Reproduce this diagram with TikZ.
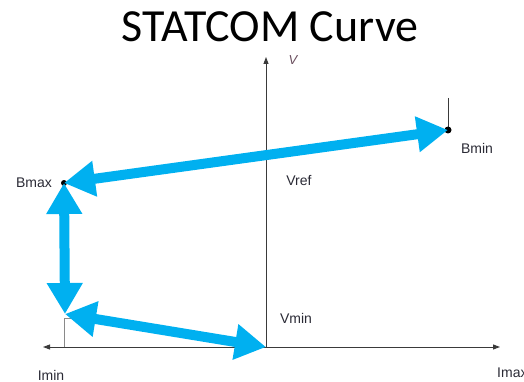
\documentclass[tikz,border=0pt]{standalone}
\usepackage{fontspec}
\setmainfont{Liberation Sans}
\newfontfamily\titlefont{Carlito}
\usetikzlibrary{arrows.meta}
\definecolor{curveblue}{HTML}{00B0F0}
\definecolor{axisgray}{HTML}{3A3A3A}
\definecolor{tickgray}{HTML}{8A8A8A}
\definecolor{vlabel}{HTML}{6A4E5E}
\definecolor{labeltext}{HTML}{2A2A35}
\begin{document}
\begin{tikzpicture}[x=1pt,y=-1pt,
  axis/.style={draw=axisgray,line width=0.9pt,-{Triangle[length=7pt,width=5pt]}},
  curve/.style={draw=curveblue,line width=10pt,
    {Triangle[length=31pt,width=34pt]}-{Triangle[length=31pt,width=34pt]}},
  lbl/.style={font=\fontsize{14}{16}\selectfont,text=labeltext,inner sep=0pt},
  ptdot/.style={circle,fill=black,inner sep=0pt,minimum size=#1}]
\useasboundingbox (0,0) rectangle (524,382);

% title
\node[font=\titlefont\fontsize{46}{50}\selectfont,inner sep=0pt] (title) at (270,27) {STATCOM Curve};

% axes
\coordinate (O) at (266,347);
\coordinate (vtop) at (266,57);
\coordinate (hleft) at (43,347);
\coordinate (hright) at (500,347);
\draw[axis] (O) -- (vtop);
\draw[axis] (O) -- (hleft);
\draw[axis] (O) -- (hright);

% operating points
\coordinate (Bmin) at (448,130);
\coordinate (Bmax) at (64,183);
\coordinate (Low) at (65,314);
\coordinate (Bminup) at (448,98);
\coordinate (Lowbase) at (64,347);
\coordinate (Lowtick) at (77,318);
\coordinate (Lowcorner) at (64,318);

% thin guide lines
\draw[draw=axisgray,line width=0.8pt] (Bminup) -- (Bmin);
\draw[draw=tickgray,line width=0.8pt] (Lowbase) -- (Lowcorner) -- (Lowtick);

\node[ptdot=7pt] (dBmin) at (Bmin) {};
\node[ptdot=6pt] (dBmax) at (Bmax) {};

% characteristic
\draw[curve] (Bmax) -- (Bmin);
\draw[curve] (Bmax) -- (Low);
\draw[curve] (Low) -- (O);

% labels
\node[font=\itshape\fontsize{13}{15}\selectfont,text=vlabel,inner sep=0pt] (vl) at (293,60) {V};
\node[lbl] (lBmin) at (477,148) {Bmin};
\node[lbl] (lBmax) at (34,183) {Bmax};
\node[lbl] (lVref) at (299,181) {Vref};
\node[lbl] (lVmin) at (296,318) {Vmin};
\node[lbl] (lImin) at (51,375) {Imin};
\node[lbl,anchor=west] (lImax) at (497,373) {Imax};
\end{tikzpicture}
\end{document}
